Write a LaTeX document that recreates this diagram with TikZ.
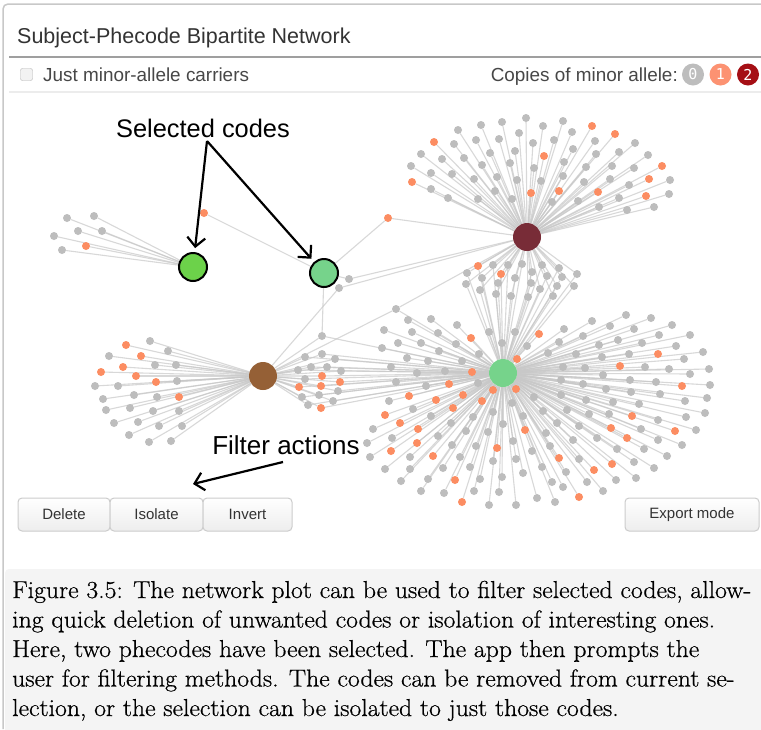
\documentclass[tikz,border=0pt]{standalone}
\usepackage{fontspec}
\newfontfamily\uifont{Liberation Sans}
\newfontfamily\badgefont{DejaVu Sans Mono}
\newfontfamily\capfont{Latin Modern Roman}[FakeBold=0.6]
\usetikzlibrary{arrows.meta}
\pgfdeclarelayer{paper}
\pgfdeclarelayer{edges}
\pgfsetlayers{paper,edges,main}

\definecolor{leafg}{HTML}{BDBDBD}
\definecolor{leafs}{HTML}{FC8D62}
\definecolor{edgec}{HTML}{C8C8C8}
\definecolor{hubred}{HTML}{782C37}
\definecolor{hubgreen}{HTML}{76D38B}
\definecolor{selgreen}{HTML}{6CD24A}
\definecolor{hubbrown}{HTML}{956036}
\definecolor{uitext}{HTML}{333333}
\definecolor{framec}{HTML}{C8C8C8}
\definecolor{capbg}{HTML}{F4F4F4}
\definecolor{btnline}{HTML}{CCCCCC}
\definecolor{btnbot}{HTML}{EDEDED}
\definecolor{badge0}{HTML}{BDBDBD}
\definecolor{badge1}{HTML}{FC9272}
\definecolor{badge2}{HTML}{A50F15}

% phecode hubs and their subject leaves (x/y/colour flag: g = 0 copies, s = 1 copy)
\def\redleaves{458/130/g, 481/125/g, 502/122/g, 526/118/g, 543/126/g, 563/121/g, 592/126/s, 615/134/s, 635/143/g, 648/155/g, 662/166/s, 670/180/g, 669/194/g, 654/207/g, 434/142/s, 421/154/g, 411/166/g, 412/182/s, 431/189/g, 448/198/g, 454/144/g, 476/140/g, 499/139/g, 519/133/g, 533/143/g, 554/140/g, 572/132/g, 595/141/g, 619/152/g, 634/168/g, 649/179/s, 646/196/s, 627/210/g, 599/207/g, 442/159/g, 464/158/g, 490/153/g, 515/151/g, 544/156/s, 573/149/g, 596/154/g, 612/166/g, 629/185/g, 619/198/g, 598/192/s, 584/182/g, 431/173/g, 452/174/g, 474/179/g, 482/165/g, 497/177/g, 510/163/g, 517/180/g, 534/168/g, 541/181/g, 563/176/g, 564/162/g, 586/167/g, 610/179/g, 495/191/g, 478/199/g, 512/199/g, 531/193/s, 552/202/g, 559/191/s, 578/201/g}
\def\midleaves{478/266/s, 493/265/g, 508/265/g, 522/264/g, 542/265/g, 559/268/g, 577/274/g, 467/273/g, 501/274/s, 482/278/g, 515/278/g, 532/272/g, 547/276/g, 562/277/g, 466/284/g, 498/283/g, 531/283/g, 574/286/g, 480/290/g, 496/294/g, 511/296/g, 528/297/g, 540/289/g, 557/286/g, 553/296/g}
\def\greenleaves{431/319/g, 457/325/g, 408/320/g, 384/330/g, 412/332/g, 438/333/g, 489/332/g, 515/332/g, 539/334/s, 564/329/g, 592/321/g, 610/326/g, 626/315/g, 651/318/g, 672/325/g, 690/335/g, 471/338/s, 382/348/g, 398/343/g, 421/343/g, 439/351/g, 456/344/g, 502/343/g, 527/346/g, 559/342/g, 583/336/g, 599/345/g, 618/340/g, 634/329/g, 642/343/g, 659/335/g, 676/346/g, 703/352/g, 658/354/s, 684/359/g, 709/369/g, 407/358/g, 428/361/g, 462/361/g, 479/354/g, 517/359/s, 548/353/g, 576/354/g, 602/357/g, 629/354/g, 620/366/s, 645/367/g, 669/369/g, 690/374/g, 710/385/g, 682/386/s, 391/367/g, 417/373/g, 445/371/g, 472/372/s, 563/367/g, 585/368/g, 603/375/g, 396/382/g, 426/386/g, 449/384/s, 478/383/g, 561/380/g, 583/384/g, 606/389/g, 630/380/g, 656/382/g, 631/392/g, 660/394/g, 685/401/g, 707/398/g, 705/413/g, 409/396/s, 436/400/s, 463/395/s, 493/390/s, 516/389/s, 482/401/s, 389/401/g, 413/409/g, 431/416/g, 453/408/s, 473/417/g, 493/412/g, 512/403/g, 523/416/g, 534/397/g, 543/411/g, 557/423/g, 561/395/g, 567/410/g, 579/426/g, 586/400/g, 589/414/g, 597/438/g, 609/414/g, 611/428/s, 613/402/g, 617/449/g, 627/438/s, 632/416/s, 639/404/g, 641/429/g, 644/449/g, 654/468/g, 658/420/g, 658/440/g, 667/456/g, 675/431/s, 682/445/g, 686/417/g, 696/430/g, 385/415/s, 400/423/s, 418/429/s, 373/429/g, 392/438/g, 417/443/s, 438/436/g, 451/423/g, 466/431/g, 488/432/g, 503/424/g, 525/430/s, 513/441/g, 546/433/g, 550/446/g, 573/440/g, 391/451/s, 410/457/g, 433/456/s, 452/445/g, 476/446/g, 497/448/s, 532/451/g, 559/458/s, 579/459/g, 594/470/s, 612/464/s, 370/457/g, 367/443/g, 385/469/g, 410/469/g, 443/468/g, 460/457/g, 470/467/g, 493/461/g, 516/459/g, 542/467/g, 566/472/g, 587/482/g, 616/480/g, 634/462/g, 636/478/g, 401/481/g, 428/479/g, 455/480/s, 480/479/g, 502/477/g, 523/473/g, 552/482/g, 563/487/g, 603/491/g, 579/497/s, 421/491/g, 444/493/g, 462/502/s, 474/491/g, 489/505/g, 499/492/g, 516/505/g, 537/498/g, 555/502/g}
\def\brownleaves{126/345/s, 150/341/g, 168/351/g, 109/356/g, 141/356/s, 123/367/s, 155/365/g, 176/365/g, 101/372/s, 136/376/s, 156/382/s, 177/381/g, 95/386/g, 118/386/g, 103/399/g, 134/395/g, 157/397/g, 179/397/s, 106/410/g, 130/408/g, 153/411/g, 179/411/g, 114/423/g, 138/422/g, 159/426/g, 182/426/g, 129/435/g, 149/442/g, 171/441/g}
\def\bridgeleaves{305/357/g, 322/354/g, 335/359/g, 298/370/g, 311/367/g, 327/367/g, 341/371/g, 305/379/g, 322/376/s, 340/382/s, 299/387/s, 321/386/s, 338/391/g, 302/397/g, 319/395/g, 333/401/g, 308/405/g, 321/408/s}
\def\selleaves{67/218/g, 94/216/g, 78/231/g, 102/231/g, 54/236/g, 86/246/s, 62/250/g}

\tikzset{
  leaf/.style={circle, inner sep=0pt, minimum size=8pt, fill=#1},
  hub/.style={circle, inner sep=0pt, minimum size=28pt, fill=#1},
  picked/.style={circle, inner sep=0pt, minimum size=28pt, fill=#1, draw=black, line width=2pt},
  edge/.style={draw=edgec, line width=1.1pt, draw opacity=0.7},
  callout/.style={draw=black, line width=2.2pt, -{Straight Barb[length=9pt,width=18pt,line width=2.2pt]}},
  uitxt/.style={inner sep=0pt, text=uitext, font=\uifont\fontsize{#1}{#1}\selectfont},
  btn/.style={draw=btnline, line width=1pt, rounded corners=4pt, top color=white, bottom color=btnbot,
    minimum height=33pt, inner sep=0pt, text=uitext, font=\uifont\fontsize{15}{16}\selectfont},
  badge/.style={circle, inner sep=0pt, minimum size=22pt, fill=#1, text=white, font=\badgefont\fontsize{15}{15}\selectfont},
  capline/.style={anchor=base west, inner sep=0pt, font=\capfont\fontsize{24.5}{29}\selectfont}
}
\newcommand\capwide[1]{\scalebox{1.05}[1]{#1}}

\begin{document}
\begin{tikzpicture}[x=1pt, y=-1pt]
\useasboundingbox (0,0) rectangle (761,729);

% page, panel frame and caption box
\begin{pgfonlayer}{paper}
\fill[white] (0,0) rectangle (761,729);
\fill[capbg, rounded corners=4pt] (5,569) rectangle (770,740);
\draw[framec, line width=1.5pt, rounded corners=5pt] (3,729) -- (3,4) -- (761,4);
\end{pgfonlayer}

% header
\node[uitxt=21.5, anchor=base west] (title) at (17,43) {Subject-Phecode Bipartite Network};
\draw[gray!75, line width=1.2pt] (9,57) -- (761,57);
\node[draw=gray!60, fill=gray!10, rounded corners=2pt, minimum size=12pt, inner sep=0pt] (chk) at (26.5,74.5) {};
\node[uitxt=18.9, anchor=base west, text=uitext!90] (carriers) at (43,81) {Just minor-allele carriers};
\node[uitxt=18.9, anchor=base east, text=uitext!90] (copies) at (678,81) {Copies of minor allele:};
\node[badge=badge0] (b0) at (693,74.5) {0};
\node[badge=badge1] (b1) at (720.5,74.5) {1};
\node[badge=badge2] (b2) at (748,74.5) {2};
\draw[gray!15, line width=1.8pt] (9,92) -- (761,92);

% phecode hubs
\node[hub=hubred] (hubR) at (527,237) {};
\node[hub=hubgreen] (hubG) at (503,373) {};
\node[hub=hubbrown] (hubB) at (263,376) {};
\node[picked=selgreen] (selA) at (193,267) {};
\node[picked=hubgreen] (selB) at (324,273) {};

% subject leaves
\foreach \x/\y/\c [count=\i] in \redleaves {\node[leaf=leaf\c] (R\i) at (\x,\y) {};}
\foreach \x/\y/\c [count=\i] in \midleaves {\node[leaf=leaf\c] (M\i) at (\x,\y) {};}
\foreach \x/\y/\c [count=\i] in \greenleaves {\node[leaf=leaf\c] (G\i) at (\x,\y) {};}
\foreach \x/\y/\c [count=\i] in \brownleaves {\node[leaf=leaf\c] (B\i) at (\x,\y) {};}
\foreach \x/\y/\c [count=\i] in \bridgeleaves {\node[leaf=leaf\c] (X\i) at (\x,\y) {};}
\foreach \x/\y/\c [count=\i] in \selleaves {\node[leaf=leaf\c] (S\i) at (\x,\y) {};}
\node[leaf=leafs] (sA) at (204,213) {};
\node[leaf=leafs] (sB) at (388,218) {};
\node[leaf=leafg] (kA) at (349,279) {};
\node[leaf=leafg] (kB) at (339,288) {};
\node[leaf=leafg] (kC) at (322,336) {};
\node[leaf=leafg] (kD) at (396,309) {};

% subject-phecode links
\begin{pgfonlayer}{edges}
\foreach \x/\y/\c [count=\i] in \redleaves {\draw[edge] (hubR) -- (R\i);}
\foreach \x/\y/\c [count=\i] in \midleaves {\draw[edge] (hubR) -- (M\i) -- (hubG);}
\foreach \x/\y/\c [count=\i] in \greenleaves {\draw[edge] (hubG) -- (G\i);}
\foreach \x/\y/\c [count=\i] in \brownleaves {\draw[edge] (hubB) -- (B\i);}
\foreach \x/\y/\c [count=\i] in \bridgeleaves {\draw[edge] (hubB) -- (X\i) -- (hubG);}
\foreach \x/\y/\c [count=\i] in \selleaves {\draw[edge] (selA) -- (S\i);}
\draw[edge] (sA) -- (selB);
\draw[edge] (selB) -- (sB) -- (hubR);
\draw[edge] (selB) -- (kA) -- (hubR);
\draw[edge] (hubB) -- (kB) -- (hubR);
\draw[edge] (selB) -- (kC) -- (hubB);
\draw[edge] (kC) -- (hubG);
\draw[edge] (hubB) -- (kD) -- (hubR);
\draw[edge] (kD) -- (hubG);
\end{pgfonlayer}

% annotations
\node[uitxt=25.4, text=black] (selnote) at (203,128) {Selected codes};
\coordinate (selfoot) at (207,141);
\draw[callout, shorten >=4pt] (selfoot) -- (selA);
\draw[callout, shorten >=4pt] (selfoot) -- (selB);
\node[uitxt=26, text=black] (filtnote) at (286,445) {Filter actions};
\coordinate (filtfoot) at (283,462);
\coordinate (filttip) at (193,484);
\draw[callout] (filtfoot) -- (filttip);

% action buttons
\node[btn, minimum width=92pt] (delete) at (64,514.5) {Delete};
\node[btn, minimum width=93pt] (isolate) at (156.5,514.5) {Isolate};
\node[btn, minimum width=89pt] (invert) at (247.5,514.5) {Invert};
\node[btn, minimum width=134pt] (export) at (692,514.5) {Export mode};

% figure caption
\node[capline] (cap1) at (12,598) {\capwide{Figure 3.5: The network plot can be used to filter selected codes, allow-}};
\node[capline] (cap2) at (12,627.5) {\capwide{ing quick deletion of unwanted codes or isolation of interesting ones.}};
\node[capline] (cap3) at (12,657) {\capwide{Here, two phecodes have been selected. The app then prompts the}};
\node[capline] (cap4) at (12,686.5) {\capwide{user for filtering methods. The codes can be removed from current se-}};
\node[capline] (cap5) at (12,716) {\capwide{lection, or the selection can be isolated to just those codes.}};
\end{tikzpicture}
\end{document}
